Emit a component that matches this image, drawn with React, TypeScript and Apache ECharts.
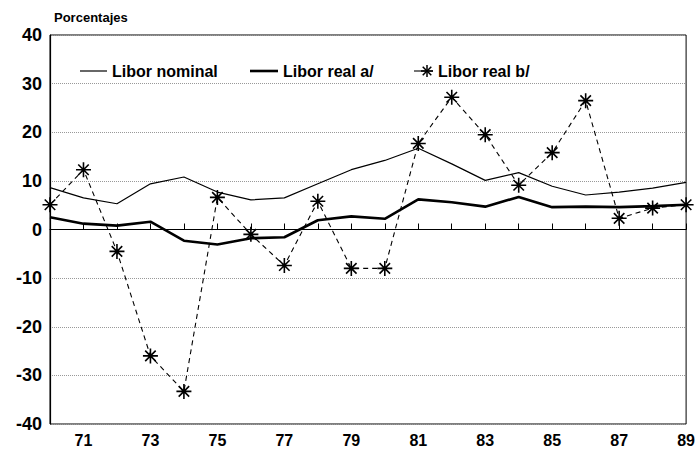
import React, { useEffect, useRef } from "react";
import * as echarts from "echarts";

const years = [70, 71, 72, 73, 74, 75, 76, 77, 78, 79, 80, 81, 82, 83, 84, 85, 86, 87, 88, 89];
const liborNominal = [8.6, 6.5, 5.3, 9.4, 10.8, 7.7, 6.1, 6.5, 9.4, 12.3, 14.2, 16.7, 13.5, 10.1, 11.7, 8.9, 7.1, 7.7, 8.5, 9.7];
const liborRealA = [2.5, 1.2, 0.8, 1.6, -2.3, -3.1, -1.8, -1.6, 1.9, 2.7, 2.2, 6.2, 5.6, 4.7, 6.7, 4.6, 4.7, 4.6, 4.8, 5.1];
const liborRealB = [5.1, 12.3, -4.5, -26, -33.3, 6.6, -1.0, -7.4, 5.8, -8, -8, 17.7, 27.2, 19.5, 9.1, 15.8, 26.5, 2.3, 4.4, 5.1];
const seriesNames = ["Libor nominal", "Libor real a/", "Libor real b/"];
const yTitle = "Porcentajes";

const STAR = "path://M0,-10L0,10M-10,0L10,0M-7,-7L7,7M-7,7L7,-7";
const FONT = "Liberation Sans, Arial, sans-serif";

export default function App() {
  const ref = useRef<HTMLDivElement>(null);
  useEffect(() => {
    if (!ref.current) return;
    const chart = echarts.init(ref.current, null, { renderer: "svg" });
    const pair = (arr: number[]) => years.map((y, i) => [y, arr[i]]);
    const ly = 71;
    const legendText = (x: number, t: string) => ({
      type: "text",
      x,
      y: ly,
      style: {
        text: t,
        fill: "#000",
        font: `bold 16px ${FONT}`,
        textVerticalAlign: "middle",
        verticalAlign: "middle",
      },
    });
    const sc = 427;
    const star = [
      [0, -6, 0, 6],
      [-6, 0, 6, 0],
      [-4.3, -4.3, 4.3, 4.3],
      [-4.3, 4.3, 4.3, -4.3],
    ].map(([a, b, c, d]) => ({
      type: "line",
      shape: { x1: sc + a, y1: ly + b, x2: sc + c, y2: ly + d },
      style: { stroke: "#000", lineWidth: 1.5 },
    }));
    chart.setOption({
      animation: false,
      backgroundColor: "#fff",
      textStyle: { fontFamily: FONT },
      title: {
        text: yTitle,
        left: 49,
        top: 6,
        textStyle: { fontSize: 13, fontWeight: "bold", color: "#000", fontFamily: FONT },
      },
      graphic: [
        { type: "line", shape: { x1: 80, y1: ly, x2: 107, y2: ly }, style: { stroke: "#000", lineWidth: 1.2 } },
        legendText(112, seriesNames[0]),
        { type: "line", shape: { x1: 250, y1: ly, x2: 278, y2: ly }, style: { stroke: "#000", lineWidth: 2.6 } },
        legendText(283, seriesNames[1]),
        { type: "line", shape: { x1: 414, y1: ly, x2: 433, y2: ly }, style: { stroke: "#000", lineWidth: 1.1 } },
        ...star,
        legendText(438, seriesNames[2]),
      ],
      grid: {
        left: 50,
        right: 10,
        top: 35,
        bottom: 28,
        show: true,
        borderColor: "#000",
        borderWidth: 1,
      },
      xAxis: {
        type: "value",
        min: 70,
        max: 89,
        interval: 1,
        axisLine: { show: true, lineStyle: { color: "#000", width: 1.2 } },
        axisTick: { show: true, inside: true, length: 6, lineStyle: { color: "#000" } },
        splitLine: { show: false },
        axisLabel: {
          color: "#000",
          fontSize: 16,
          fontWeight: "bold",
          fontFamily: FONT,
          margin: 8,
          formatter: (v: number) => (v % 2 === 1 ? String(v) : ""),
        },
      },
      yAxis: {
        type: "value",
        min: -40,
        max: 40,
        interval: 10,
        axisLine: { show: true, lineStyle: { color: "#000", width: 1.2 } },
        axisTick: { show: false },
        splitLine: { show: true, lineStyle: { color: "#999", type: "dotted", width: 1 } },
        axisLabel: {
          color: "#000",
          fontSize: 18,
          fontWeight: "bold",
          fontFamily: FONT,
          margin: 8,
        },
      },
      series: [
        {
          name: seriesNames[0],
          type: "line",
          data: pair(liborNominal),
          symbol: "none",
          lineStyle: { color: "#000", width: 1.2 },
          itemStyle: { color: "#000" },
          markLine: {
            silent: true,
            symbol: "none",
            label: { show: false },
            lineStyle: { color: "#000", type: "solid", width: 1.2 },
            data: [{ yAxis: 0 }],
          },
        },
        {
          name: seriesNames[1],
          type: "line",
          data: pair(liborRealA),
          symbol: "none",
          lineStyle: { color: "#000", width: 2.6 },
          itemStyle: { color: "#000" },
        },
        {
          name: seriesNames[2],
          type: "line",
          data: pair(liborRealB),
          symbol: STAR,
          symbolSize: 15,
          showSymbol: true,
          lineStyle: { color: "#000", width: 1.1, type: [5, 4] },
          itemStyle: { color: "none", borderColor: "#000", borderWidth: 1.6 },
        },
      ],
    });
    return () => chart.dispose();
  }, []);
  return <div ref={ref} style={{ width: 698, height: 452, position: "absolute", left: 0, top: 0 }} />;
}
